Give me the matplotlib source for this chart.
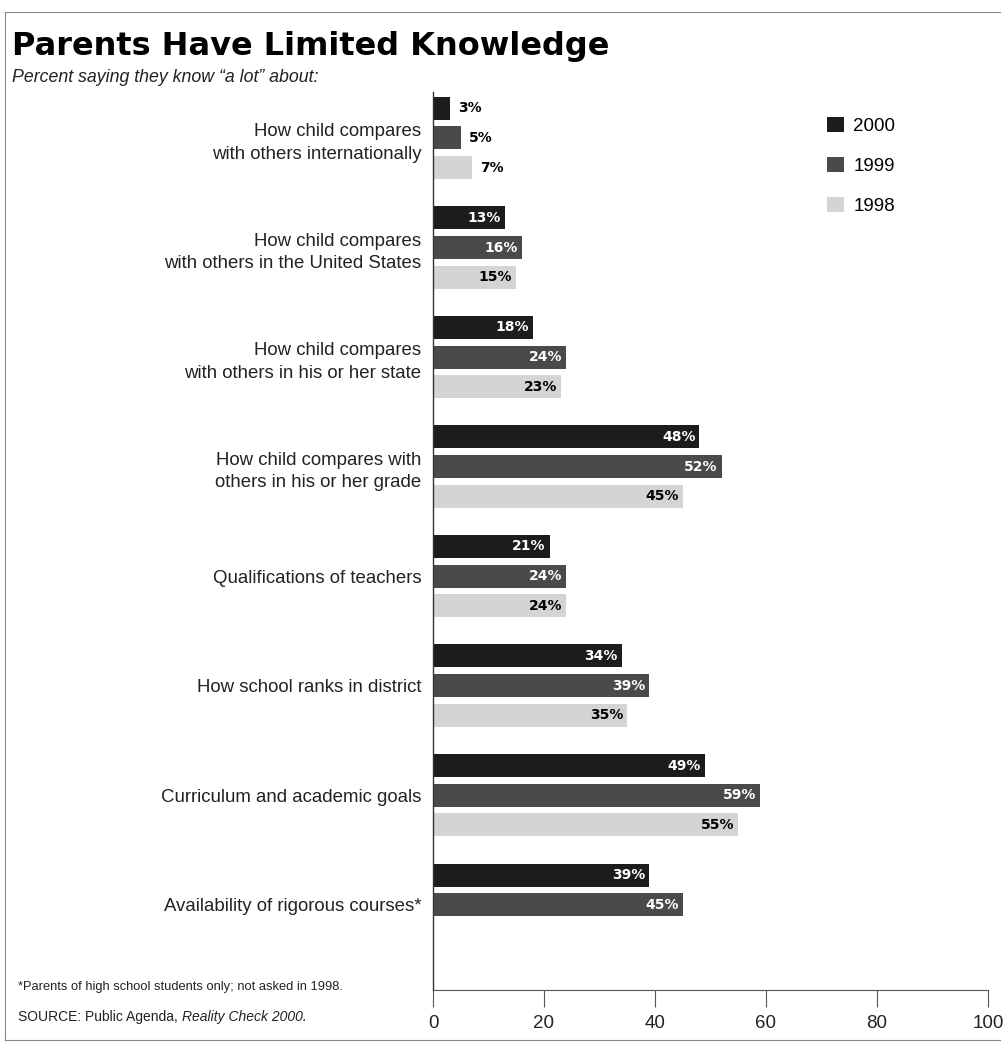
"""Parents Have Limited Knowledge - grouped horizontal bar chart."""

import numpy as np
import matplotlib
matplotlib.use("Agg")
import matplotlib.pyplot as plt
from matplotlib.lines import Line2D
from matplotlib.patches import Patch

categories = [
    "How child compares\nwith others internationally",
    "How child compares\nwith others in the United States",
    "How child compares\nwith others in his or her state",
    "How child compares with\nothers in his or her grade",
    "Qualifications of teachers",
    "How school ranks in district",
    "Curriculum and academic goals",
    "Availability of rigorous courses*",
]
years = ["2000", "1999", "1998"]
vals_2000 = [3, 13, 18, 48, 21, 34, 49, 39]
vals_1999 = [5, 16, 24, 52, 24, 39, 59, 45]
vals_1998 = [7, 15, 23, 45, 24, 35, 55, None]  # not asked in 1998 for last item
xticks = [0, 20, 40, 60, 80, 100]

colors = ["#1c1c1c", "#4a4a4a", "#d4d4d4"]
label_colors = ["white", "white", "black"]

W, H = 1005, 1052
fig = plt.figure(figsize=(W / 100, H / 100), dpi=100)
ax = fig.add_axes([433 / W, 1 - 990 / H, (988 - 433) / W, (990 - 92) / H])

offsets = [-0.27, 0.0, 0.27]
bar_h = 0.21
series = [vals_2000, vals_1999, vals_1998]
for k, vals in enumerate(series):
    for i, v in enumerate(vals):
        if v is None:
            continue
        y = i + offsets[k]
        ax.barh(y, v, height=bar_h, color=colors[k], edgecolor="none")
        if v < 10:
            ax.text(v + 1.5, y, f"{v}%", ha="left", va="center",
                    fontsize=10, fontweight="heavy", color="black")
        else:
            ax.text(v - 0.7, y, f"{v}%", ha="right", va="center",
                    fontsize=10, fontweight="heavy", color=label_colors[k])

ax.set_xlim(0, 100)
ax.set_ylim(7.78, -0.42)
ax.set_yticks(range(len(categories)))
ax.set_yticklabels(categories, fontsize=13.4, family="Liberation Sans",
                   color="#222222", multialignment="right", linespacing=1.45)
ax.tick_params(axis="y", length=0, pad=8.5)
ax.set_xticks(xticks)
ax.set_xticklabels([str(t) for t in xticks], fontsize=13.5,
                   family="Liberation Sans", color="#222222")
ax.tick_params(axis="x", length=12, width=0.8, pad=6, color="#555555")
for s in ["top", "right"]:
    ax.spines[s].set_visible(False)
ax.spines["left"].set_color("#333333")
ax.spines["bottom"].set_color("#555555")
ax.spines["left"].set_linewidth(1.0)
ax.spines["bottom"].set_linewidth(0.8)

# legend
handles = [Patch(facecolor=c, edgecolor="none") for c in colors]
fig.legend(handles, years, loc="upper left",
           bbox_to_anchor=(810 / W, 1 - 100 / H), frameon=False,
           handlelength=0.9, handleheight=0.9,
           labelspacing=1.15, handletextpad=0.5,
           prop={"family": "Liberation Sans", "size": 13.5})

# title and subtitle
fig.text(12 / W, 1 - 47 / H, "Parents Have Limited Knowledge",
         fontsize=23, fontweight="heavy", va="center", family="DejaVu Sans")
fig.text(12 / W, 1 - 77 / H, "Percent saying they know \u201ca lot\u201d about:",
         fontsize=12.8, style="italic", va="center", family="Liberation Sans",
         color="#222222")

# footnotes
fig.text(18 / W, 1 - 987 / H,
         "*Parents of high school students only; not asked in 1998.",
         fontsize=9.3, va="center", family="Liberation Sans", color="#222222")
src = fig.text(18 / W, 1 - 1017 / H, "SOURCE: Public Agenda, ",
               fontsize=10, va="center", family="Liberation Sans",
               color="#222222")
fig.canvas.draw()
bb = src.get_window_extent()
fig.text(bb.x1 / W, 1 - 1017 / H, "Reality Check 2000.",
         fontsize=10, va="center", style="italic", family="Liberation Sans",
         color="#222222")

# thin frame around the panel (top, left, bottom)
frame_kw = dict(color="#888888", linewidth=0.8, transform=fig.transFigure)
fig.add_artist(Line2D([5 / W, 1000 / W], [1 - 12 / H, 1 - 12 / H], **frame_kw))
fig.add_artist(Line2D([5 / W, 5 / W], [1 - 12 / H, 1 - 1040 / H], **frame_kw))
fig.add_artist(Line2D([5 / W, 1000 / W], [1 - 1040 / H, 1 - 1040 / H], **frame_kw))

fig.savefig("out.png", dpi=100, facecolor="white")
